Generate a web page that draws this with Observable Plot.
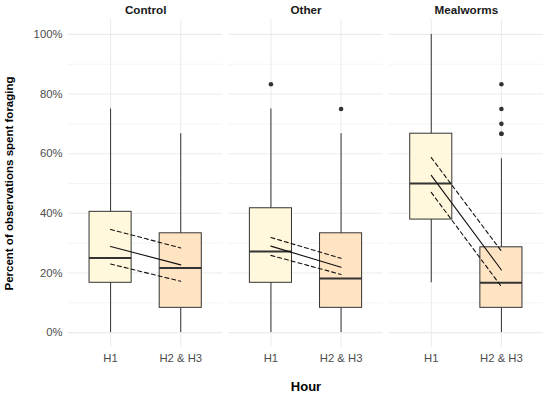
<!DOCTYPE html>
<html>
<head>
<meta charset="utf-8">
<script src="https://cdn.jsdelivr.net/npm/d3@7"></script>
<script src="https://cdn.jsdelivr.net/npm/@observablehq/plot@0.6"></script>
<style>
  html, body { margin: 0; padding: 0; background: #ffffff; }
  #chart svg { display: block; }
</style>
</head>
<body>
<div id="chart"></div>
<script>
// ---- data ----
const facets = ["Control", "Other", "Mealworms"];
const hours = ["H1", "H2 & H3"];
const yMajor = [0, 20, 40, 60, 80, 100];
const yMinor = [10, 30, 50, 70, 90];

// boxplot summaries (percent)
const boxTreat = ["Control", "Control", "Other", "Other", "Mealworms", "Mealworms"];
const boxHour = ["H1", "H2 & H3", "H1", "H2 & H3", "H1", "H2 & H3"];
const whiskerLow = [0, 0, 0, 0, 16.7, 0];
const q1 = [16.7, 8.3, 16.7, 8.3, 37.9, 8.3];
const median = [25.0, 21.7, 27.2, 18.1, 50.0, 16.7];
const q3 = [40.5, 33.3, 41.7, 33.3, 66.7, 28.6];
const whiskerHigh = [75.0, 66.7, 75.0, 66.7, 100, 58.3];

// outliers
const outTreat = ["Other", "Other", "Mealworms", "Mealworms", "Mealworms", "Mealworms", "Mealworms"];
const outHour = ["H1", "H2 & H3", "H2 & H3", "H2 & H3", "H2 & H3", "H2 & H3", "H2 & H3"];
const outValue = [83.3, 75.0, 83.3, 75.0, 70.0, 66.7, 66.7];

// model estimates with confidence limits
const estTreat = ["Control", "Control", "Other", "Other", "Mealworms", "Mealworms"];
const estHour = ["H1", "H2 & H3", "H1", "H2 & H3", "H1", "H2 & H3"];
const estimate = [28.9, 22.7, 29.0, 21.9, 52.7, 21.0];
const lowerCI = [23.0, 17.2, 25.9, 19.5, 47.0, 15.4];
const upperCI = [34.6, 28.4, 31.9, 24.9, 58.7, 27.3];

// ---- tables ----
const boxes = boxTreat.map((t, i) => ({
  treat: t, hour: boxHour[i], lo: whiskerLow[i], q1: q1[i], med: median[i], q3: q3[i], hi: whiskerHigh[i]
}));
const outliers = outTreat.map((t, i) => ({treat: t, hour: outHour[i], value: outValue[i]}));
const est = estTreat.map((t, i) => ({treat: t, hour: estHour[i], value: estimate[i]}));
const ci = [];
estTreat.forEach((t, i) => {
  ci.push({treat: t, hour: estHour[i], value: lowerCI[i], band: "lower"});
  ci.push({treat: t, hour: estHour[i], value: upperCI[i], band: "upper"});
});

const boxStroke = "#333333";
const gridColor = "#ebebeb";

const chart = Plot.plot({
  width: 550,
  height: 394,
  marginLeft: 68,
  marginRight: 7,
  marginTop: 19,
  marginBottom: 47,
  style: {fontFamily: "'Liberation Sans', Arial, Helvetica, sans-serif", fontSize: "11.3px", background: "#ffffff"},
  fx: {domain: facets, paddingInner: 0.0375, paddingOuter: 0, axis: null, label: null, round: false},
  x: {domain: hours, paddingInner: 0.4, paddingOuter: 0.3, axis: null, round: false},
  y: {domain: [-5, 105], axis: null},
  color: {domain: hours, range: ["#FFF8DC", "#FFE4C4"]},
  marks: [
    // grid
    Plot.ruleY(yMinor, {y: d => d, stroke: gridColor, strokeWidth: 0.55}),
    Plot.ruleY(yMajor, {y: d => d, stroke: gridColor, strokeWidth: 1.07}),
    Plot.ruleX(hours, {x: d => d, stroke: gridColor, strokeWidth: 1.07}),
    // whiskers
    Plot.ruleX(boxes, {fx: "treat", x: "hour", y1: "lo", y2: "hi", stroke: boxStroke, strokeWidth: 1}),
    // boxes
    Plot.barY(boxes, {fx: "treat", x: "hour", y1: "q1", y2: "q3", fill: "hour", stroke: boxStroke, strokeWidth: 1}),
    // medians
    Plot.tickY(boxes, {fx: "treat", x: "hour", y: "med", stroke: boxStroke, strokeWidth: 2}),
    // outliers
    Plot.dot(outliers, {fx: "treat", x: "hour", y: "value", r: 2.3, fill: boxStroke, stroke: "none"}),
    // estimates
    Plot.line(ci, {fx: "treat", x: "hour", y: "value", z: "band", stroke: "#111111", strokeWidth: 1.1, strokeDasharray: "4,3"}),
    Plot.line(est, {fx: "treat", x: "hour", y: "value", stroke: "#111111", strokeWidth: 1.1}),
    // x tick labels
    Plot.text(hours, {x: d => d, text: d => d, frameAnchor: "bottom", lineAnchor: "middle", dy: 11, fill: "#4d4d4d", fontSize: 11.3}),
    // y tick labels (first facet only)
    Plot.text(yMajor, {fx: yMajor.map(() => "Control"), y: d => d, text: d => d + "%", frameAnchor: "left", textAnchor: "end", dx: -6, fill: "#4d4d4d", fontSize: 11.3}),
    // facet strip labels
    Plot.text(facets, {fx: d => d, text: d => d, frameAnchor: "top", lineAnchor: "middle", dy: -9, fontWeight: "bold", fill: "#1a1a1a", fontSize: 11.7}),
    // y axis title
    Plot.text(["Percent of observations spent foraging"], {fx: ["Control"], text: d => d, frameAnchor: "left", textAnchor: "middle", lineAnchor: "middle", dx: -59, rotate: -90, fontWeight: "bold", fill: "#000000", fontSize: 11.5}),
    // x axis title
    Plot.text(["Hour"], {fx: ["Other"], text: d => d, frameAnchor: "bottom", lineAnchor: "middle", dy: 39, fontWeight: "bold", fill: "#000000", fontSize: 13})
  ]
});

document.getElementById("chart").appendChild(chart);
</script>
</body>
</html>
